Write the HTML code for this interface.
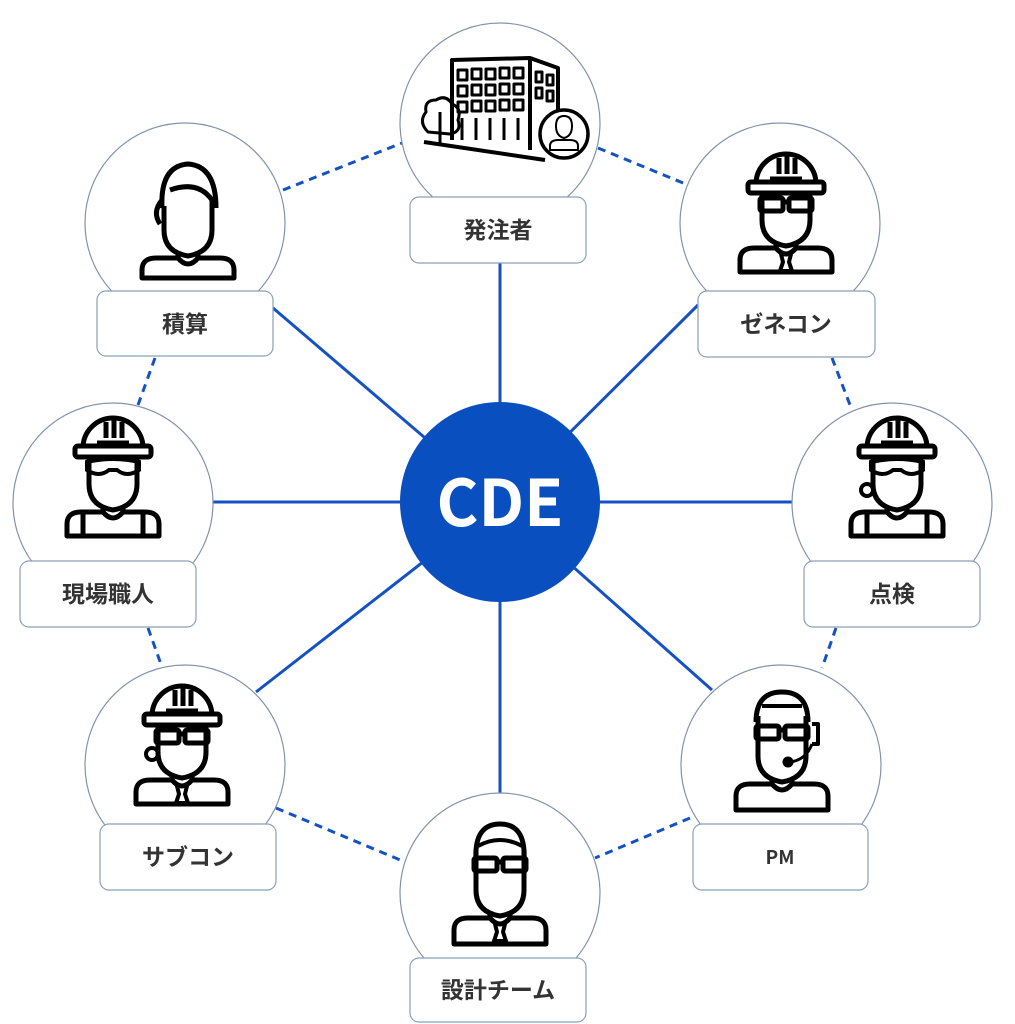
<!DOCTYPE html>
<html><head><meta charset="utf-8"><style>
html,body{margin:0;padding:0;background:#fff;}
svg{display:block;}
text{font-family:"Noto Sans CJK JP","Liberation Sans",sans-serif;}
</style></head><body>
<svg width="1015" height="1024" viewBox="0 0 1015 1024" xmlns="http://www.w3.org/2000/svg">
<defs>
<g id="hat" fill="none" stroke="#000" stroke-width="5" stroke-linejoin="round">
  <path d="M-30,34 A30,30 0 0 1 30,34"/>
  <rect x="-38" y="32" width="76" height="11" rx="3"/>
  <line x1="-7" y1="8" x2="-7" y2="24"/><line x1="1" y1="6" x2="1" y2="24"/><line x1="9" y1="8" x2="9" y2="24"/>
  <line x1="-16" y1="28" x2="16" y2="28" stroke-width="3"/>
</g>
<g id="body" fill="none" stroke="#000" stroke-width="5" stroke-linejoin="round">
  <path d="M-24,42 L-24,70 Q-24,92 0,96 Q24,92 24,70 L24,42"/>
  <line x1="-10" y1="92" x2="-10" y2="100"/><line x1="10" y1="92" x2="10" y2="100"/>
  <path d="M-46,122 L-46,110 Q-46,98 -32,98 L-10,98 Q0,110 10,98 L32,98 Q46,98 46,110 L46,122 Z"/>
</g>
<g id="glasses" fill="none" stroke="#000" stroke-width="5">
  <rect x="-26" y="48" width="23" height="13" rx="2"/><rect x="3" y="48" width="23" height="13" rx="2"/>
  <line x1="-3" y1="52" x2="3" y2="52"/>
</g>
<g id="tie" fill="none" stroke="#000" stroke-width="4">
  <path d="M-5,104 L5,104 L3,112 L6,121 L-6,121 L-3,112 Z"/>
</g>
</defs>

<g stroke="#1452c4" stroke-width="3" stroke-dasharray="8,6" fill="none">
  <line x1="283" y1="190" x2="402" y2="143"/>
  <line x1="598" y1="148" x2="688" y2="185"/>
  <line x1="155" y1="358" x2="138" y2="405"/>
  <line x1="832" y1="358" x2="850" y2="405"/>
  <line x1="148" y1="628" x2="162" y2="667"/>
  <line x1="836" y1="628" x2="822" y2="668"/>
  <line x1="276" y1="808" x2="405" y2="862"/>
  <line x1="690" y1="818" x2="595" y2="858"/>
</g>
<g stroke="#1452c4" stroke-width="3" fill="none">
  <line x1="500" y1="502" x2="500" y2="263"/>
  <line x1="500" y1="502" x2="273" y2="308"/>
  <line x1="500" y1="502" x2="698" y2="305"/>
  <line x1="500" y1="502" x2="213" y2="502"/>
  <line x1="500" y1="502" x2="792" y2="502"/>
  <line x1="500" y1="502" x2="256" y2="692"/>
  <line x1="500" y1="502" x2="712" y2="690"/>
  <line x1="500" y1="502" x2="500" y2="793"/>
</g>

<g fill="#fff" stroke="#8193ab" stroke-width="1.2">
  <circle cx="500" cy="123" r="100"/>
  <circle cx="185" cy="223" r="100"/>
  <circle cx="780" cy="223" r="100"/>
  <circle cx="113" cy="503" r="100"/>
  <circle cx="892" cy="503" r="100"/>
  <circle cx="185" cy="765" r="100"/>
  <circle cx="781" cy="765" r="100"/>
  <circle cx="500" cy="893" r="100"/>
</g>

<g fill="none" stroke="#000" stroke-width="4" stroke-linejoin="round">
  <path d="M452,140 L452,60 L530,58 L558,68 L558,150"/>
  <line x1="530" y1="58" x2="530" y2="150"/>
  <g stroke-width="3">
    <rect x="458" y="70" width="9" height="10"/><rect x="472" y="69" width="9" height="10"/><rect x="486" y="69" width="9" height="10"/><rect x="500" y="68" width="9" height="10"/><rect x="514" y="68" width="9" height="10"/>
    <rect x="458" y="86" width="9" height="10"/><rect x="472" y="85" width="9" height="10"/><rect x="486" y="85" width="9" height="10"/><rect x="500" y="84" width="9" height="10"/><rect x="514" y="84" width="9" height="10"/>
    <rect x="458" y="102" width="9" height="10"/><rect x="472" y="101" width="9" height="10"/><rect x="486" y="101" width="9" height="10"/><rect x="500" y="100" width="9" height="10"/><rect x="514" y="100" width="9" height="10"/>
    <rect x="536" y="72" width="6" height="10"/><rect x="547" y="75" width="6" height="10"/>
    <rect x="536" y="88" width="6" height="10"/><rect x="547" y="91" width="6" height="10"/>
    <line x1="462" y1="118" x2="462" y2="140"/><line x1="476" y1="118" x2="476" y2="140"/><line x1="490" y1="118" x2="490" y2="140"/><line x1="504" y1="118" x2="504" y2="140"/><line x1="518" y1="118" x2="518" y2="140"/>
  </g>
  <path d="M424,142 L545,160" stroke-width="4"/>
  <path d="M428,132 Q418,122 426,112 Q424,100 436,100 Q446,94 452,104 Q462,108 458,120 Q462,132 450,134 Z" stroke-width="3"/>
  <line x1="440" y1="112" x2="440" y2="144" stroke-width="3"/>
  <circle cx="564" cy="134" r="24" fill="#fff" stroke-width="3.5"/>
  <path d="M556,126 Q556,116 564,116 Q572,116 572,126 Q572,136 564,138 Q556,136 556,126 Z M550,150 L550,146 Q550,140 558,140 L570,140 Q578,140 578,146 L578,150 Z" stroke-width="2"/>
</g>

<g transform="translate(188,160)" fill="none" stroke="#000" stroke-width="5" stroke-linejoin="round">
  <path d="M-26,48 Q-28,6 0,4 Q28,6 28,48"/>
  <path d="M-24,46 L-24,70 Q-24,92 0,96 Q24,92 24,70 L24,40 Q10,20 -18,30"/>
  <path d="M-26,40 Q-36,52 -28,64"/>
  <line x1="-10" y1="92" x2="-10" y2="100"/><line x1="10" y1="92" x2="10" y2="100"/>
  <path d="M-46,118 L-46,110 Q-46,98 -32,98 L-10,98 Q0,110 10,98 L32,98 Q46,98 46,110 L46,118 Z"/>
</g>
<g transform="translate(786,150)"><use href="#hat"/><use href="#body"/><use href="#glasses"/><use href="#tie"/></g>
<g transform="translate(113,414)"><use href="#hat"/><use href="#body"/>
  <path d="M-26,48 Q0,42 26,48 L26,56 Q14,64 4,56 L-4,56 Q-14,64 -26,56 Z" fill="none" stroke="#000" stroke-width="4"/>
  <g stroke="#000" stroke-width="5"><line x1="-30" y1="100" x2="-30" y2="122"/><line x1="30" y1="100" x2="30" y2="122"/></g></g>
<g transform="translate(897,414)"><use href="#hat"/><use href="#body"/>
  <path d="M-26,48 Q0,42 26,48 L26,56 Q14,64 4,56 L-4,56 Q-14,64 -26,56 Z" fill="none" stroke="#000" stroke-width="4"/>
  <circle cx="-30" cy="76" r="6" fill="none" stroke="#000" stroke-width="4"/>
  <g stroke="#000" stroke-width="5"><line x1="-30" y1="100" x2="-30" y2="122"/><line x1="30" y1="100" x2="30" y2="122"/></g></g>
<g transform="translate(182,682)"><use href="#hat"/><use href="#body"/><use href="#glasses"/><use href="#tie"/>
  <circle cx="-30" cy="72" r="6" fill="none" stroke="#000" stroke-width="4"/></g>
<g transform="translate(782,686)" fill="none" stroke="#000" stroke-width="5" stroke-linejoin="round">
  <path d="M-26,36 Q-26,6 0,6 Q26,6 26,36"/>
  <path d="M-24,30 L-24,70 Q-24,92 0,96 Q24,92 24,70 L24,30"/>
  <path d="M-20,20 L20,20" stroke-width="4"/>
  <use href="#glasses" transform="translate(0,-8)"/>
  <path d="M30,38 L36,38 L36,58 L30,58" stroke-width="4"/>
  <path d="M30,58 Q24,74 8,76" stroke-width="3"/>
  <circle cx="6" cy="76" r="3" fill="#000"/>
  <line x1="-10" y1="92" x2="-10" y2="100"/><line x1="10" y1="92" x2="10" y2="100"/>
  <path d="M-46,124 L-46,110 Q-46,98 -32,98 L-10,98 Q0,110 10,98 L32,98 Q46,98 46,110 L46,124 Z"/>
</g>
<g transform="translate(500,820)" fill="none" stroke="#000" stroke-width="5" stroke-linejoin="round">
  <path d="M-24,40 Q-26,4 0,4 Q26,4 24,40"/>
  <path d="M-24,30 L-24,70 Q-24,92 0,96 Q24,92 24,70 L24,30"/>
  <path d="M-22,26 Q0,14 22,26" stroke-width="4"/>
  <use href="#glasses" transform="translate(0,-10)"/>
  <line x1="-10" y1="92" x2="-10" y2="100"/><line x1="10" y1="92" x2="10" y2="100"/>
  <path d="M-46,124 L-46,110 Q-46,98 -32,98 L-10,98 Q0,110 10,98 L32,98 Q46,98 46,110 L46,124 Z"/>
  <use href="#tie"/>
</g>

<g fill="#fff" stroke="#8aa0b8" stroke-width="1.2">
  <rect x="410" y="197" width="176" height="66" rx="9"/>
  <rect x="97" y="291" width="176" height="65" rx="9"/>
  <rect x="698" y="291" width="177" height="66" rx="9"/>
  <rect x="20" y="561" width="176" height="66" rx="9"/>
  <rect x="804" y="561" width="176" height="66" rx="9"/>
  <rect x="100" y="824" width="176" height="66" rx="9"/>
  <rect x="693" y="824" width="175" height="66" rx="9"/>
  <rect x="410" y="958" width="176" height="64" rx="9"/>
</g>
<g fill="#333" font-size="23" font-weight="bold" text-anchor="middle">
  <text x="498" y="238">発注者</text>
  <text x="185" y="332">積算</text>
  <text x="786" y="332">ゼネコン</text>
  <text x="108" y="602">現場職人</text>
  <text x="892" y="602">点検</text>
  <text x="188" y="865">サブコン</text>
  <text x="780" y="864" font-size="19">PM</text>
  <text x="498" y="998">設計チーム</text>
</g>

<circle cx="500" cy="502" r="100" fill="#0a4fc0"/>
<text x="500" y="526" fill="#fff" font-size="64" font-weight="bold" text-anchor="middle">CDE</text>
</svg>
</body></html>
